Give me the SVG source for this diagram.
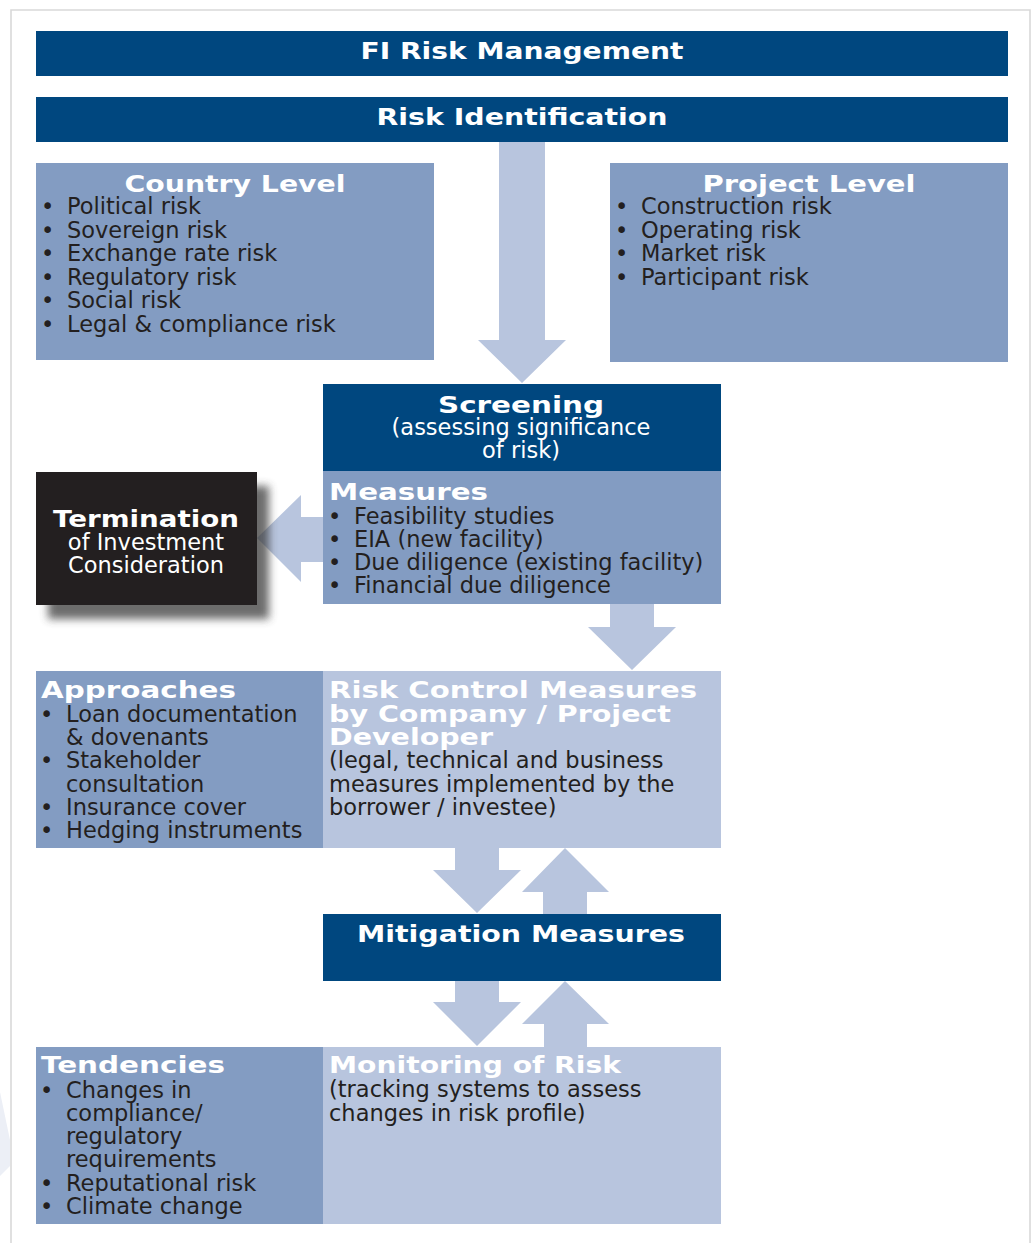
<svg xmlns="http://www.w3.org/2000/svg" width="1032" height="1243" viewBox="0 0 1032 1243">
<defs>
<style>
.dark{fill:#00477f}
.mid{fill:#839cc2}
.light{fill:#b8c5de}
.arrow{fill:#b8c5de}
.h{font-family:"DejaVu Sans","Liberation Sans",sans-serif;font-weight:bold;font-size:23px;fill:#ffffff}
.b{font-family:"DejaVu Sans","Liberation Sans",sans-serif;font-size:22.5px;fill:#231f20}
.w{font-family:"DejaVu Sans","Liberation Sans",sans-serif;font-size:22.5px;fill:#ffffff}
.c{text-anchor:middle}
</style>
<filter id="shadow" x="-20%" y="-20%" width="150%" height="150%">
<feGaussianBlur stdDeviation="4"/>
</filter>
</defs>
<rect width="1032" height="1243" fill="#ffffff"/>
<path d="M11,1243 V10 H1030 V1243" fill="none" stroke="#d9d9d9" stroke-width="1.6"/>
<polygon points="0,1092 10,1140 10,1166 0,1176" fill="#eceff6"/>

<g id="connectors">
<polygon class="arrow" points="499,141 545,141 545,340 566,340 522,383 478,340 499,340"/>
<polygon class="arrow" points="323,517 301,517 301,495 257,538 301,582 301,562 323,562"/>
<polygon class="arrow" points="610,604 654,604 654,627 676,627 632,670 588,627 610,627"/>
<polygon class="arrow" points="455,848 499,848 499,870 521,870 477,913 433,870 455,870"/>
<polygon class="arrow" points="565,848 609,892 587,892 587,914 543,914 543,892 522,892"/>
<polygon class="arrow" points="455,981 499,981 499,1002 521,1002 477,1046 433,1002 455,1002"/>
<polygon class="arrow" points="565,981 609,1024 587,1024 587,1047 544,1047 544,1024 522,1024"/>
</g>

<g id="fi-risk-management">
<rect class="dark" x="36" y="31" width="972" height="45"/>
<text class="h c" x="522" y="59" textLength="323" lengthAdjust="spacingAndGlyphs">FI Risk Management</text>
</g>

<g id="risk-identification">
<rect class="dark" x="36" y="97" width="972" height="45"/>
<text class="h c" x="522" y="125" textLength="291" lengthAdjust="spacingAndGlyphs">Risk Identification</text>
</g>

<g id="country-level">
<rect class="mid" x="36" y="163" width="398" height="197"/>
<text class="h c" x="235" y="192" textLength="221" lengthAdjust="spacingAndGlyphs">Country Level</text>
<g class="b">
<text x="41" y="214">•</text><text x="67" y="214">Political risk</text>
<text x="41" y="237.5">•</text><text x="67" y="237.5">Sovereign risk</text>
<text x="41" y="261">•</text><text x="67" y="261">Exchange rate risk</text>
<text x="41" y="284.5">•</text><text x="67" y="284.5">Regulatory risk</text>
<text x="41" y="308">•</text><text x="67" y="308">Social risk</text>
<text x="41" y="331.5">•</text><text x="67" y="331.5">Legal &amp; compliance risk</text>
</g>
</g>

<g id="project-level">
<rect class="mid" x="610" y="163" width="398" height="199"/>
<text class="h c" x="809" y="192" textLength="213" lengthAdjust="spacingAndGlyphs">Project Level</text>
<g class="b">
<text x="615" y="214">•</text><text x="641" y="214">Construction risk</text>
<text x="615" y="237.5">•</text><text x="641" y="237.5">Operating risk</text>
<text x="615" y="261">•</text><text x="641" y="261">Market risk</text>
<text x="615" y="284.5">•</text><text x="641" y="284.5">Participant risk</text>
</g>
</g>

<g id="screening">
<rect class="dark" x="323" y="384" width="398" height="88"/>
<text class="h c" x="521" y="413" textLength="166" lengthAdjust="spacingAndGlyphs">Screening</text>
<text class="w c" x="521" y="435">(assessing significance</text>
<text class="w c" x="521" y="458">of risk)</text>
</g>

<g id="measures">
<rect class="mid" x="323" y="471" width="398" height="133"/>
<text class="h" x="329" y="500" textLength="159" lengthAdjust="spacingAndGlyphs">Measures</text>
<g class="b">
<text x="328" y="524">•</text><text x="354" y="524">Feasibility studies</text>
<text x="328" y="547">•</text><text x="354" y="547">EIA (new facility)</text>
<text x="328" y="570">•</text><text x="354" y="570">Due diligence (existing facility)</text>
<text x="328" y="593">•</text><text x="354" y="593">Financial due diligence</text>
</g>
</g>

<g id="termination">
<rect x="36" y="472" width="221" height="133" fill="#3a3a3a" opacity="0.75" transform="translate(12,14)" filter="url(#shadow)"/>
<rect x="36" y="472" width="221" height="133" fill="#231f20"/>
<text class="h c" x="146" y="527" textLength="186" lengthAdjust="spacingAndGlyphs">Termination</text>
<text class="w c" x="146" y="550">of Investment</text>
<text class="w c" x="146" y="573">Consideration</text>
</g>

<g id="approaches">
<rect class="mid" x="36" y="671" width="287" height="177"/>
<text class="h" x="41" y="698" textLength="195" lengthAdjust="spacingAndGlyphs">Approaches</text>
<g class="b">
<text x="40" y="722">•</text><text x="66" y="722">Loan documentation</text>
<text x="66" y="745">&amp; dovenants</text>
<text x="40" y="768">•</text><text x="66" y="768">Stakeholder</text>
<text x="66" y="792">consultation</text>
<text x="40" y="815">•</text><text x="66" y="815">Insurance cover</text>
<text x="40" y="838">•</text><text x="66" y="838">Hedging instruments</text>
</g>
</g>

<g id="risk-control-measures">
<rect class="light" x="323" y="671" width="398" height="177"/>
<text class="h" x="329" y="698" textLength="368" lengthAdjust="spacingAndGlyphs">Risk Control Measures</text>
<text class="h" x="329" y="722" textLength="342" lengthAdjust="spacingAndGlyphs">by Company / Project</text>
<text class="h" x="329" y="745" textLength="164" lengthAdjust="spacingAndGlyphs">Developer</text>
<g class="b">
<text x="329" y="768">(legal, technical and business</text>
<text x="329" y="792">measures implemented by the</text>
<text x="329" y="815">borrower / investee)</text>
</g>
</g>

<g id="mitigation-measures">
<rect class="dark" x="323" y="914" width="398" height="67"/>
<text class="h c" x="521" y="942" textLength="328" lengthAdjust="spacingAndGlyphs">Mitigation Measures</text>
</g>

<g id="tendencies">
<rect class="mid" x="36" y="1047" width="287" height="177"/>
<text class="h" x="41" y="1073" textLength="184" lengthAdjust="spacingAndGlyphs">Tendencies</text>
<g class="b">
<text x="40" y="1098">•</text><text x="66" y="1098">Changes in</text>
<text x="66" y="1121">compliance/</text>
<text x="66" y="1144">regulatory</text>
<text x="66" y="1167">requirements</text>
<text x="40" y="1191">•</text><text x="66" y="1191">Reputational risk</text>
<text x="40" y="1214">•</text><text x="66" y="1214">Climate change</text>
</g>
</g>

<g id="monitoring-of-risk">
<rect class="light" x="323" y="1047" width="398" height="177"/>
<text class="h" x="329" y="1073" textLength="292" lengthAdjust="spacingAndGlyphs">Monitoring of Risk</text>
<g class="b">
<text x="329" y="1097">(tracking systems to assess</text>
<text x="329" y="1121">changes in risk profile)</text>
</g>
</g>
</svg>
